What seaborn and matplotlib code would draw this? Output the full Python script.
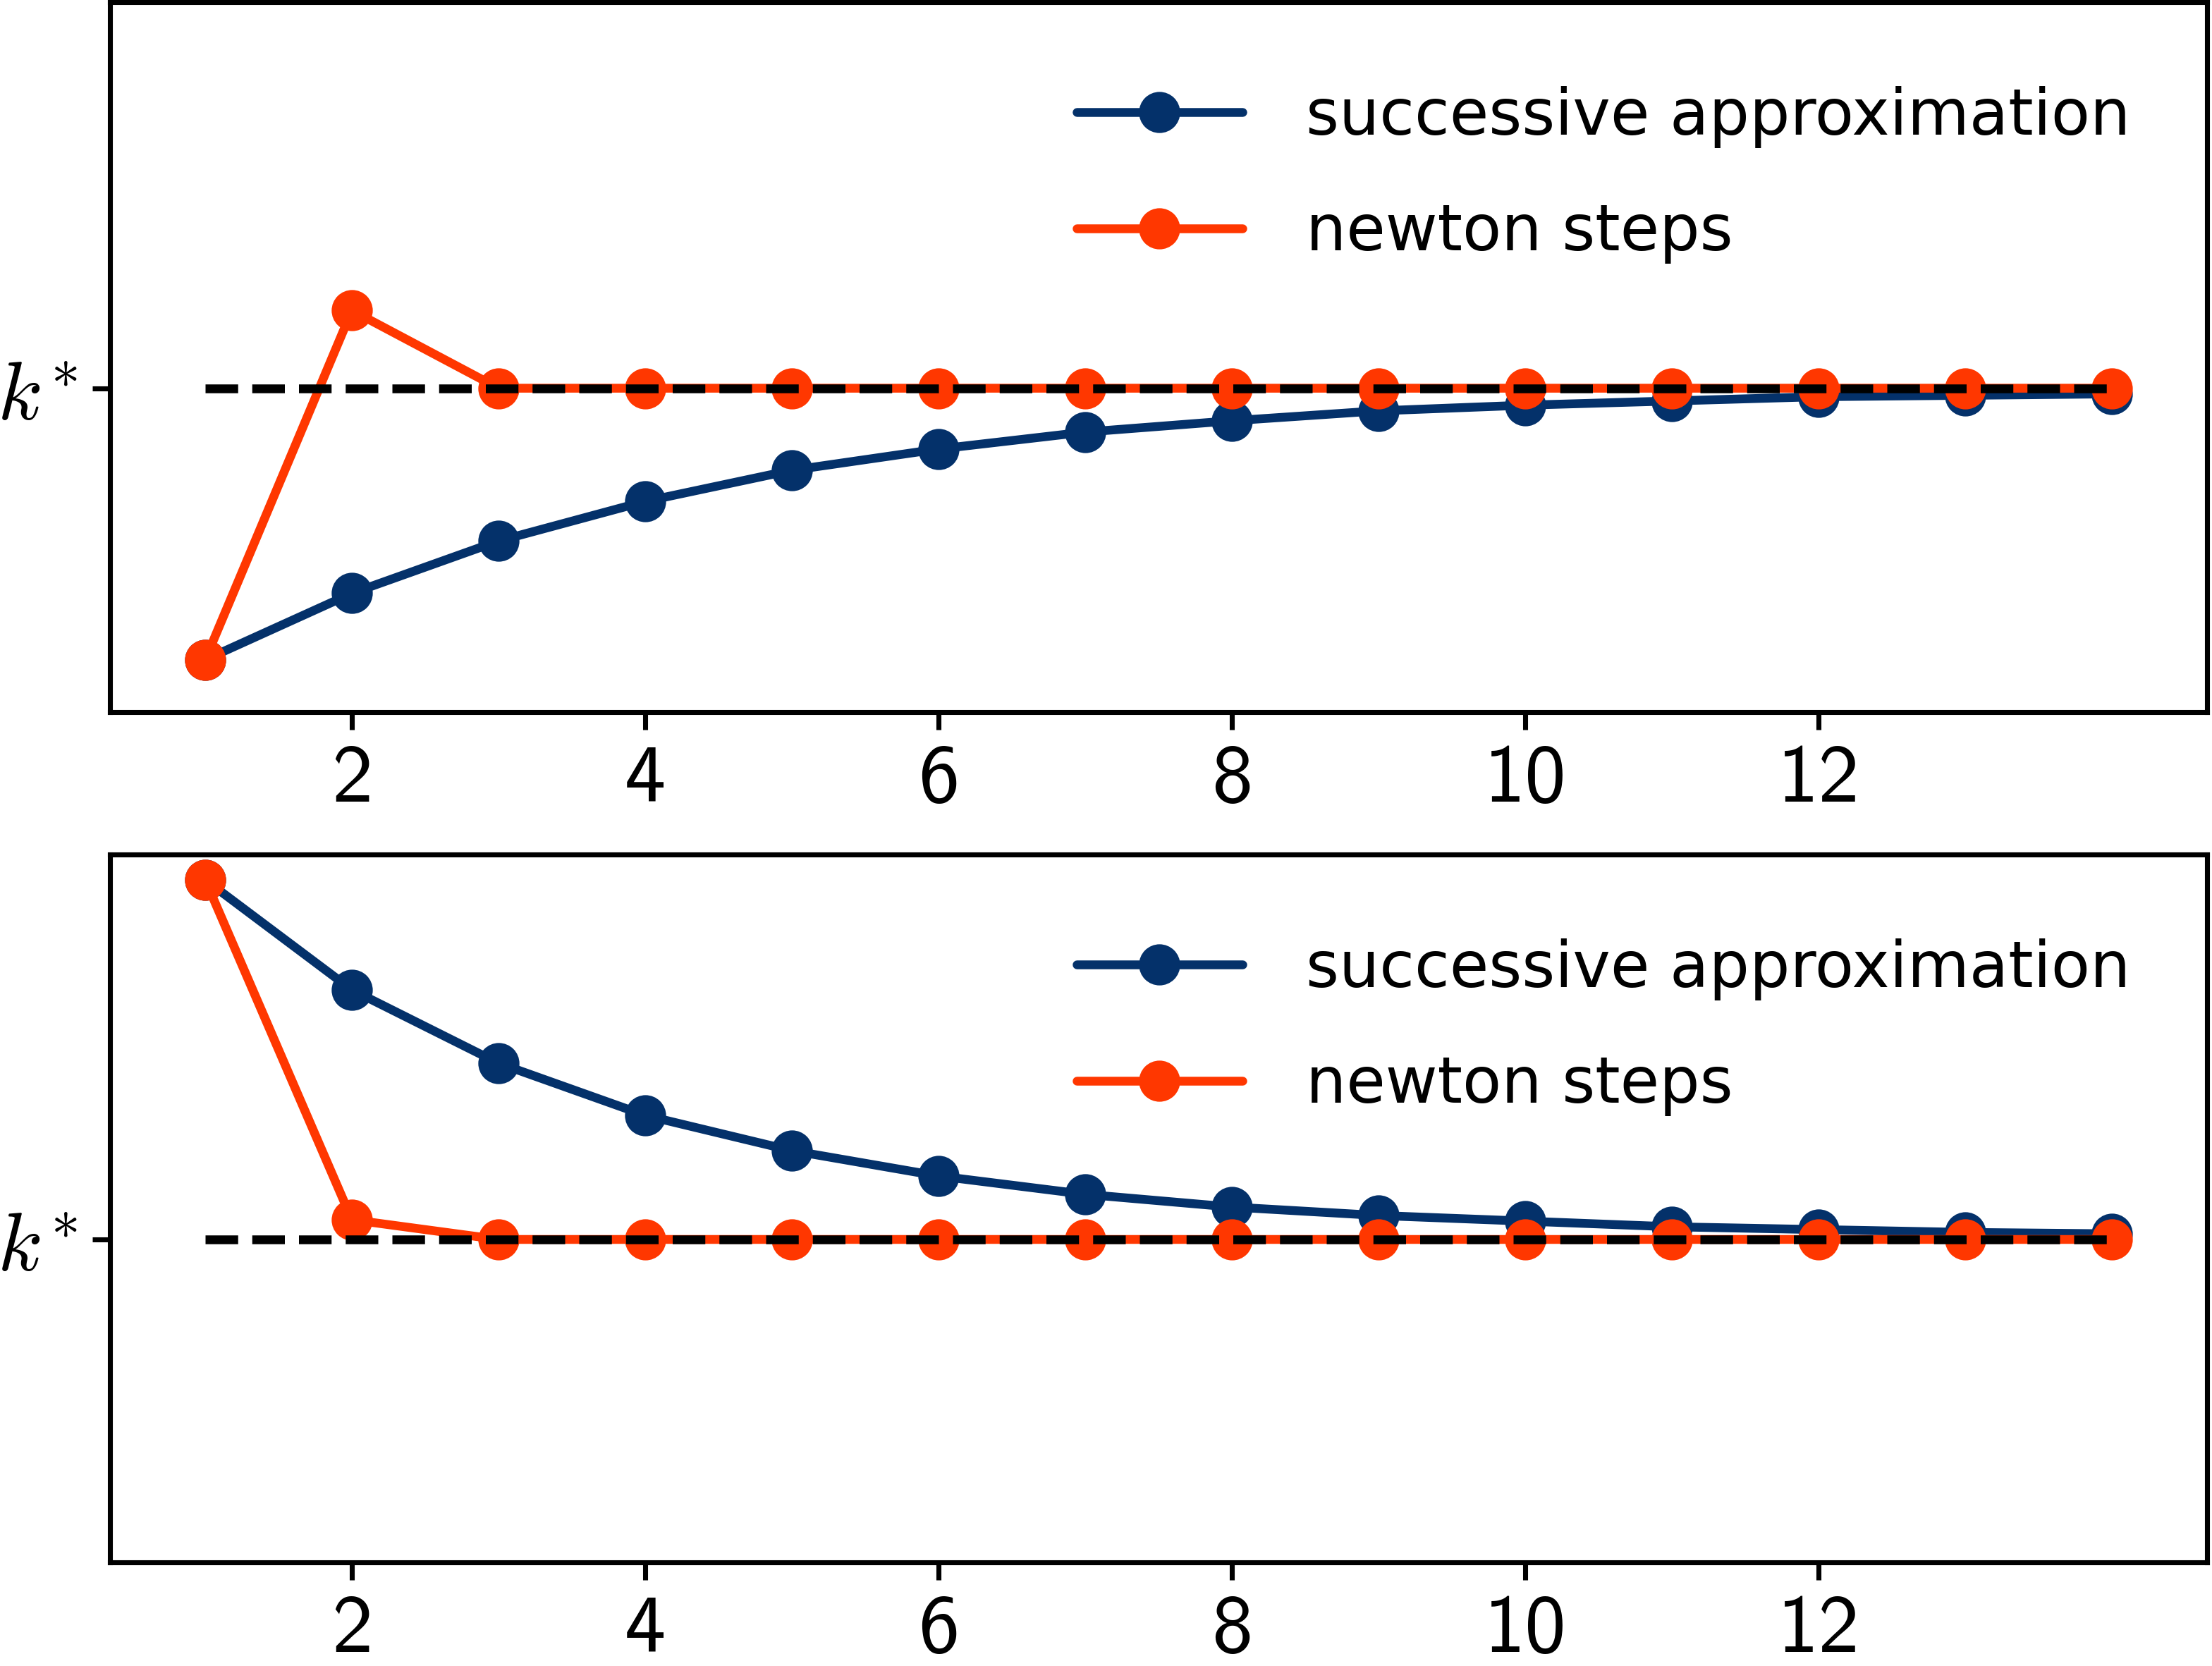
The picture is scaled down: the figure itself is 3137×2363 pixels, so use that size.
import numpy as np
import pandas as pd
import matplotlib
matplotlib.use("Agg")
import matplotlib.pyplot as plt
import seaborn as sns

sns.set_theme(style="white")
plt.rcParams['font.family'] = ['DejaVu Sans']
plt.rcParams['mathtext.fontset'] = 'cm'
plt.rcParams['text.color'] = 'black'
plt.rcParams['xtick.color'] = 'black'
plt.rcParams['ytick.color'] = 'black'

# data (k* = 3)
k_star = 3.0
steps = list(range(1, 15))

# top panel: start below k*
succ_low = [1.08, 1.55, 1.92, 2.20, 2.42, 2.57, 2.69, 2.77, 2.84, 2.88, 2.91, 2.94, 2.95, 2.96]
newt_low = [1.08, 3.55, 3.00, 3.00, 3.00, 3.00, 3.00, 3.00, 3.00, 3.00, 3.00, 3.00, 3.00, 3.00]

# bottom panel: start above k*
succ_high = [5.55, 4.77, 4.25, 3.88, 3.63, 3.45, 3.32, 3.23, 3.17, 3.13, 3.09, 3.07, 3.05, 3.04]
newt_high = [5.55, 3.14, 3.00, 3.00, 3.00, 3.00, 3.00, 3.00, 3.00, 3.00, 3.00, 3.00, 3.00, 3.00]

xtick_vals = [2, 4, 6, 8, 10, 12]
xtick_labels = [str(v) for v in xtick_vals]

blue = '#04316a'
orange = '#ff3700'

fig = plt.figure(figsize=(3137 / 300, 2363 / 300), dpi=300)
ax1 = fig.add_axes([0.0497, 0.5726, 0.9481, 0.4261])
ax2 = fig.add_axes([0.0497, 0.0622, 0.9481, 0.4249])

panels = [(ax1, succ_low, newt_low), (ax2, succ_high, newt_high)]

for ax, succ, newt in panels:
    df = pd.DataFrame({'step': steps, 'succ': succ, 'newt': newt})
    sns.lineplot(data=df, x='step', y='succ', ax=ax, color=blue, marker='o',
                 markersize=14, markeredgecolor=blue, markeredgewidth=0,
                 linewidth=3, label='successive approximation')
    sns.lineplot(data=df, x='step', y='newt', ax=ax, color=orange, marker='o',
                 markersize=14, markeredgecolor=orange, markeredgewidth=0,
                 linewidth=3, label='newton steps')
    ax.plot([steps[0], steps[-1]], [k_star, k_star], color='black', ls='--', lw=3, zorder=5)

    ax.set_ylim(0.71, 5.73)
    ax.set_xlabel('')
    ax.set_ylabel('')
    ax.set_yticks([k_star])
    ax.set_yticklabels([r'$k^{\!*}$'], fontsize=28)
    ax.set_xticks(xtick_vals)
    ax.set_xticklabels(xtick_labels, fontsize=28, family='cmss10')
    ax.tick_params(axis='both', which='major', length=6, width=1.7,
                   direction='out', bottom=True, left=True, color='black')
    ax.tick_params(axis='x', pad=5)
    ax.tick_params(axis='y', pad=5)
    for sp in ax.spines.values():
        sp.set_visible(True)
        sp.set_linewidth(1.7)
        sp.set_color('black')
    ax.legend(loc='upper right', frameon=False, fontsize=21.7, handlelength=2.6,
              handletextpad=1.0, labelspacing=0.85, borderaxespad=0.8,
              bbox_to_anchor=(1.0, 0.99))

fig.savefig('out.png', dpi=300)
